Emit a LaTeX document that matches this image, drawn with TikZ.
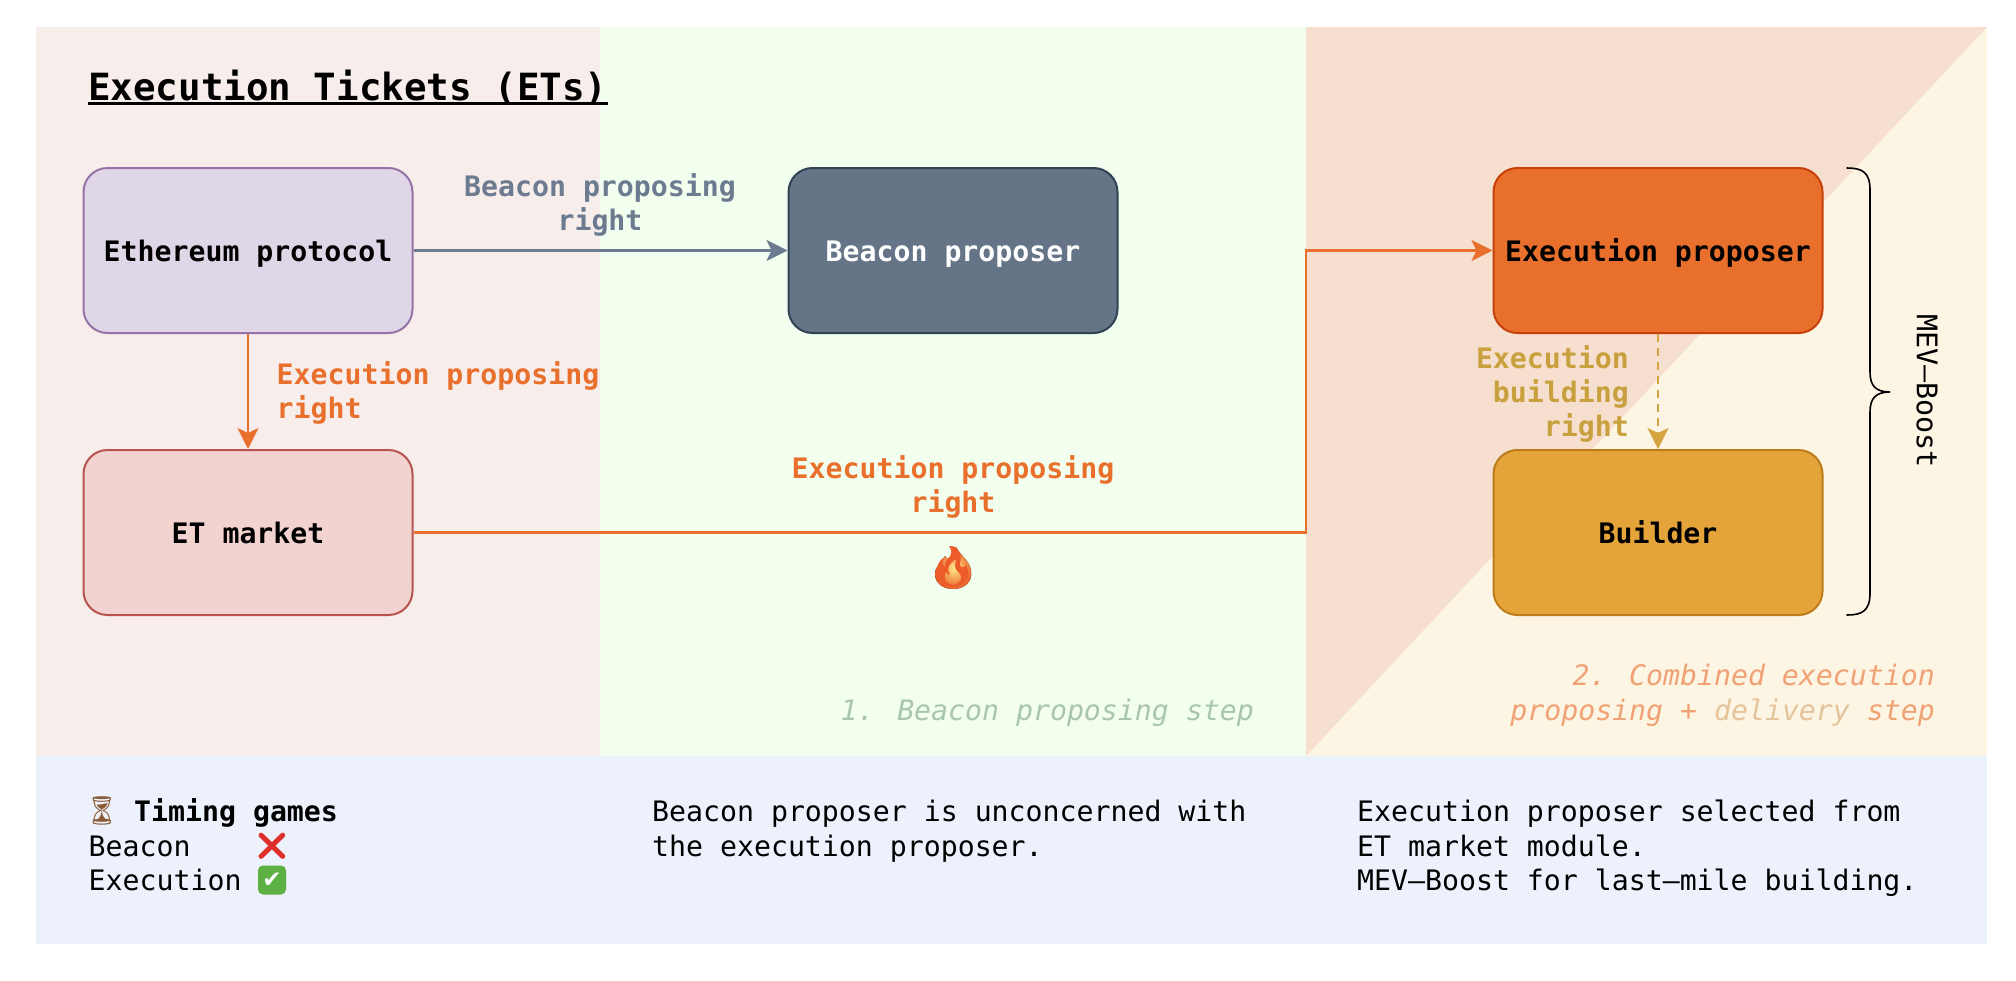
\documentclass[tikz,border=0pt]{standalone}
\usepackage{fontspec}
\setmainfont{DejaVu Sans Mono}
\newfontfamily\emo{Noto Emoji}
\newfontfamily\djv{DejaVu Sans}
\usetikzlibrary{arrows.meta}
\definecolor{paneRed}{HTML}{F7EDEB}
\definecolor{paneGreen}{HTML}{F2FFEE}
\definecolor{paneCream}{HTML}{FCF5E4}
\definecolor{panePeach}{HTML}{F6DFCE}
\definecolor{paneBlue}{HTML}{ECF1FC}
\definecolor{orangeA}{HTML}{E9702C}
\definecolor{goldA}{HTML}{D6A341}
\definecolor{goldT}{HTML}{C9A03E}
\definecolor{slateA}{HTML}{6C7B90}
\definecolor{ethF}{HTML}{DFD7E7}
\definecolor{ethD}{HTML}{9673A6}
\definecolor{etF}{HTML}{F3D3D0}
\definecolor{etD}{HTML}{B85450}
\definecolor{beaF}{HTML}{657487}
\definecolor{beaD}{HTML}{314354}
\definecolor{exeD}{HTML}{C73F0A}
\definecolor{buiF}{HTML}{E5A43A}
\definecolor{buiD}{HTML}{BD7C1A}
\definecolor{noteG}{HTML}{A9C6AA}
\definecolor{noteO}{HTML}{F0A274}
\definecolor{noteL}{HTML}{E5C49C}
\definecolor{hourC}{HTML}{8A5A34}
\definecolor{crossC}{HTML}{DD2E2A}
\definecolor{checkC}{HTML}{5DB043}
\definecolor{flameO}{HTML}{EC5B28}
\definecolor{flameY}{HTML}{FFEB8A}
\tikzset{
  box/.style={draw,rounded corners=24pt,minimum width=329pt,minimum height=165pt,line width=2pt,inner sep=0pt,text height=21pt,text depth=0pt,font=\fontsize{28.2}{34}\selectfont\bfseries},
  lab/.style={inner sep=0pt,font=\fontsize{28.2}{34}\selectfont\bfseries},
  txt/.style={inner sep=0pt,anchor=base west,font=\fontsize{28.2}{34}\selectfont},
  stepnote/.style={inner sep=0pt,font=\fontsize{28.2}{34}\selectfont\itshape,align=right,anchor=base east},
  conn/.style={line width=2.4pt,-{Stealth[length=21pt,width=21pt,inset=5pt]}},
}
\begin{document}
\begin{tikzpicture}[x=1pt,y=-1pt]
\useasboundingbox (0,0) rectangle (2016,980);
\fill[white] (0,0) rectangle (2016,980);
% panes
\fill[paneRed] (36,27) rectangle (600,756);
\fill[paneGreen] (600,27) rectangle (1306,756);
\fill[paneCream] (1306,27) rectangle (1987,756);
\fill[panePeach] (1306,27) -- (1987,27) -- (1306,756) -- cycle;
\fill[paneBlue] (36,756) rectangle (1987,944);
% title
\node[inner sep=0pt,anchor=base west,font=\fontsize{37.5}{44}\selectfont\bfseries] (title) at (88,100) {Execution Tickets (ETs)};
\draw[line width=2.6pt] ([yshift=-3.5pt]title.base west) -- ([yshift=-3.5pt]title.base east);
% boxes
\node[box,fill=ethF,draw=ethD] (eth) at (248,250.5) {Ethereum protocol};
\node[box,fill=etF,draw=etD] (et) at (248,532.5) {ET market};
\node[box,fill=beaF,draw=beaD,text=white] (beacon) at (953,250.5) {Beacon proposer};
\node[box,fill=orangeA,draw=exeD] (exec) at (1658,250.5) {Execution proposer};
\node[box,fill=buiF,draw=buiD] (builder) at (1658,532.5) {Builder};
% connectors
\coordinate (bend) at (1306,250.5);
\draw[conn,draw=slateA] (eth.east) -- (beacon.west);
\draw[conn,draw=orangeA] (eth.south) -- (et.north);
\draw[conn,draw=orangeA] (et.east) -| (bend) -- (exec.west);
\draw[conn,draw=goldA,dash pattern=on 8pt off 6pt] (exec.south) -- (builder.north);
% labels
\node[lab,text=slateA,align=center] (l1) at (600,205) {Beacon proposing\\right};
\node[lab,text=orangeA,align=left,anchor=west] (l2) at (276.5,393) {Execution proposing\\right};
\node[lab,text=orangeA,align=center] (l3) at (953,487) {Execution proposing\\right};
\node[lab,text=goldT,align=right,anchor=east] (l4) at (1629,394) {Execution\\building\\right};
% flame colour under the glyph
\fill[inner color=flameY,outer color=flameO] (956,547) .. controls (960,556) and (973,562) .. (971,576) .. controls (970,584) and (962,589) .. (953,589) .. controls (943,589) and (935,583) .. (935,574) .. controls (935,566) and (942,562) .. (945,556) .. controls (948,562) and (956,556) .. (956,547) -- cycle;
\node[inner sep=0pt,text=flameO,font=\fontsize{40}{46}\selectfont\emo] (fire) at (953,567) {🔥};
% brace
\draw[line width=1.6pt,line cap=round] (1847,168) .. controls (1862,168) and (1870,172) .. (1870,190) -- (1870,372) .. controls (1870,386) and (1876,392) .. (1890,392) .. controls (1876,392) and (1870,398) .. (1870,412) -- (1870,593) .. controls (1870,611) and (1862,615) .. (1847,615);
\node[inner sep=0pt,rotate=-90,font=\fontsize{28.4}{34}\selectfont] (mev) at (1927,391) {MEV—Boost};
% step notes
\node[stepnote,text=noteG] (s1) at (1254,720) {1. Beacon proposing step};
\node[stepnote,text=noteO] (s2a) at (1935,685) {2. Combined execution};
\node[stepnote,text=noteO] (s2b) at (1935,720) {proposing + \textcolor{noteL}{delivery} step};
% bottom text
\node[inner sep=0pt,text=hourC,font=\fontsize{28}{34}\selectfont\emo] (hour) at (102,811) {⏳};
\node[txt,font=\fontsize{28.2}{34}\selectfont\bfseries] (t1) at (134,821) {Timing games};
\node[txt] (t2) at (88.5,856) {Beacon};
\node[txt] (t3) at (88.5,890) {Execution};
\node[inner sep=0pt,text=crossC,font=\fontsize{27}{34}\selectfont\emo] (xm) at (272,846) {❌};
\node[fill=checkC,rounded corners=5pt,minimum width=28pt,minimum height=29pt,inner sep=0pt,text=white,font=\fontsize{23}{24}\selectfont\djv] (ck) at (272,880) {✔};
\node[txt] (m1) at (652,821) {Beacon proposer is unconcerned with};
\node[txt] (m2) at (652,856) {the execution proposer.};
\node[txt] (r1) at (1357,821) {Execution proposer selected from};
\node[txt] (r2) at (1357,856) {ET market module.};
\node[txt] (r3) at (1357,890) {MEV—Boost for last—mile building.};
\end{tikzpicture}
\end{document}
